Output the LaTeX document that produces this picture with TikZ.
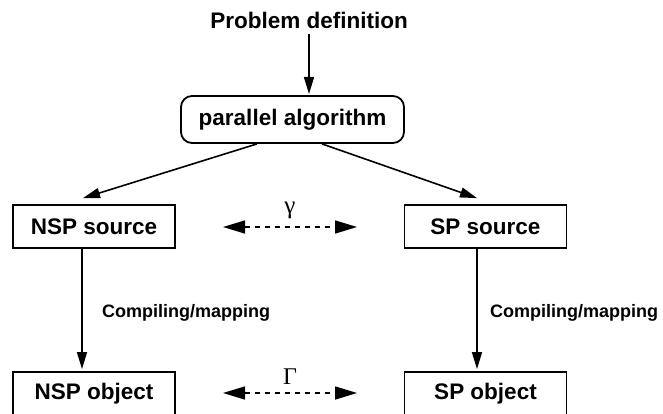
\documentclass[tikz,border=0pt]{standalone}
\usepackage{fontspec}
\setmainfont{Liberation Sans}
\newfontfamily\greekfont{Liberation Serif}
\usetikzlibrary{arrows.meta,positioning}

\tikzset{
  stage/.style={draw, line width=1.8pt, minimum height=43pt, inner sep=0pt,
    font=\fontsize{22.5}{27}\selectfont\bfseries},
  algbox/.style={stage, rounded corners=11pt, minimum width=223pt, minimum height=47pt},
  srcbox/.style={stage, minimum width=162pt},
  flow/.style={-{Triangle[length=17pt,width=10pt]}, line width=1.6pt},
  equiv/.style={{Triangle[length=22pt,width=13pt]}-{Triangle[length=22pt,width=13pt]},
    line width=1.6pt, dash pattern=on 5pt off 5pt},
  steplabel/.style={font=\fontsize{18}{22}\selectfont\bfseries, anchor=west},
}

\begin{document}
\begin{tikzpicture}[x=1pt,y=-1pt]
\useasboundingbox (0,0) rectangle (663,414);

\node(prob) at (309,20) {\fontsize{22.5}{27}\selectfont\bfseries Problem definition};
\node[algbox](alg) at (292.5,119.5) {parallel algorithm};
\node[srcbox](nspsrc) at (94,226.5) {NSP source};
\node[srcbox](spsrc) at (485.5,226.5) {SP source};
\node[srcbox](nspobj) at (94,393.5) {NSP object};
\node[srcbox](spobj) at (485.5,393.5) {SP object};

% equivalence arrows between the two columns
\coordinate (gl) at (223,227);
\coordinate (gr) at (357,227);
\coordinate (Gl) at (223,393);
\coordinate (Gr) at (357,393);

\draw[flow] (prob.south -| 309,0) ++(0,2) -- (309,94);
\draw[flow] (alg.south -| 257,0) -- ([yshift=6pt]nspsrc.north -| 83,0);
\draw[flow] (alg.south -| 322,0) -- ([yshift=6pt]spsrc.north -| 477,0);
\draw[flow] (nspsrc.south -| 82,0) -- ([yshift=2pt]nspobj.north -| 82,0)
  node[steplabel, pos=0.53, xshift=16pt](cmleft) {Compiling/mapping};
\draw[flow] (spsrc.south -| 477,0) -- ([yshift=2pt]spobj.north -| 477,0)
  node[steplabel, pos=0.53, xshift=9pt](cmright) {Compiling/mapping};
\draw[equiv] (gl) -- (gr) node[midway, above=4pt](gamma) {\fontsize{25}{28}\selectfont\greekfont γ};
\draw[equiv] (Gl) -- (Gr) node[midway, above=4pt](Gamma) {\fontsize{24}{28}\selectfont\greekfont Γ};
\end{tikzpicture}
\end{document}
